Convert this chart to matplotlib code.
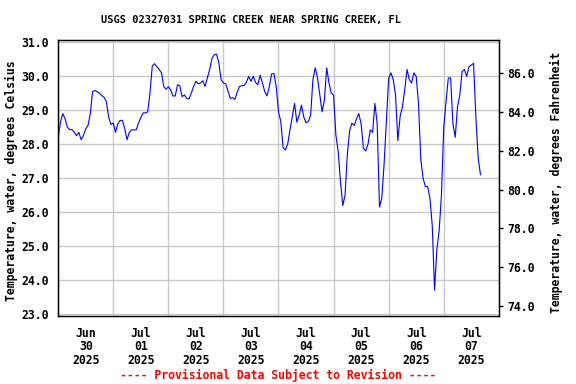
import numpy as np
import pandas as pd
import matplotlib
matplotlib.use("Agg")
import matplotlib.pyplot as plt
import matplotlib.dates as mdates
from matplotlib.ticker import FixedLocator, FormatStrFormatter

### hourly water temperature readings, degrees Celsius
jun30 = [28.2, 28.65, 28.9, 28.75, 28.5, 28.43, 28.43, 28.35, 28.25, 28.35, 28.13, 28.25,
         28.45, 28.55, 28.9, 29.55, 29.58, 29.55, 29.5, 29.43, 29.38, 29.25, 28.8, 28.58]
jul01 = [28.62, 28.35, 28.6, 28.7, 28.7, 28.45, 28.13, 28.35, 28.42, 28.42, 28.42, 28.62,
         28.78, 28.92, 28.92, 28.95, 29.5, 30.3, 30.37, 30.28, 30.2, 30.1, 29.7, 29.62]
jul02 = [29.69, 29.6, 29.42, 29.42, 29.75, 29.72, 29.4, 29.45, 29.35, 29.33, 29.5, 29.7,
         29.85, 29.78, 29.8, 29.87, 29.7, 29.95, 30.2, 30.52, 30.64, 30.65, 30.4, 29.9]
jul03 = [29.8, 29.78, 29.56, 29.35, 29.37, 29.32, 29.53, 29.7, 29.72, 29.73, 29.82, 30.0,
         29.85, 30.0, 29.82, 29.75, 30.03, 29.8, 29.55, 29.42, 29.7, 30.07, 30.08, 29.7]
jul04 = [28.95, 28.67, 27.9, 27.83, 28.0, 28.42, 28.8, 29.2, 28.65, 28.85, 29.15, 28.8,
         28.63, 28.67, 28.85, 29.9, 30.25, 29.95, 29.45, 28.95, 29.3, 30.25, 29.8, 29.5]
jul05 = [29.45, 28.27, 27.8, 26.9, 26.19, 26.5, 27.7, 28.4, 28.62, 28.55, 28.75, 28.9,
         28.6, 27.88, 27.8, 28.0, 28.42, 28.35, 29.2, 28.6, 26.15, 26.4, 27.4, 28.7]
jul06 = [29.94, 30.1, 29.9, 29.45, 28.1, 28.82, 29.1, 29.6, 30.2, 29.9, 29.8, 30.1,
         30.0, 29.2, 27.55, 27.0, 26.75, 26.75, 26.4, 25.6, 23.7, 24.9, 25.45, 26.5]
jul07 = [28.5, 29.25, 29.95, 29.95, 28.6, 28.2, 29.1, 29.45, 30.14, 30.2, 30.0, 30.28,
         30.33, 30.38, 28.8, 27.6, 27.1]

temps = jun30 + jul01 + jul02 + jul03 + jul04 + jul05 + jul06 + jul07
times = pd.date_range("2025-06-30 00:00", periods=len(temps), freq="h")

c_ticks = [23.0, 24.0, 25.0, 26.0, 27.0, 28.0, 29.0, 30.0, 31.0]
f_ticks = [74.0, 76.0, 78.0, 80.0, 82.0, 84.0, 86.0]

title = "USGS 02327031 SPRING CREEK NEAR SPRING CREEK, FL"
ylab_c = "Temperature, water, degrees Celsius"
ylab_f = "Temperature, water, degrees Fahrenheit"
note = "---- Provisional Data Subject to Revision ----"

### figure
mono = "DejaVu Sans Mono"
fig = plt.figure(figsize=(5.76, 3.84), dpi=100)
ax = fig.add_axes([0.101, 0.178, 0.765, 0.718])

ax.plot(times, temps, color="#0000ff", lw=0.8, zorder=3)

start = pd.Timestamp("2025-06-30")
ax.set_xlim(start, start + pd.Timedelta(days=8))
ax.set_ylim(22.95, 31.07)

# gridlines at midnight, labels at noon
ax.xaxis.set_major_locator(mdates.DayLocator())
ax.xaxis.set_major_formatter(plt.NullFormatter())
ax.xaxis.set_minor_locator(mdates.HourLocator(byhour=12))
ax.xaxis.set_minor_formatter(mdates.DateFormatter("%b\n%d\n%Y"))
ax.tick_params(axis="x", which="both", length=0)
ax.tick_params(axis="x", which="minor", pad=8)
for lab in ax.get_xticklabels(minor=True):
    lab.set_fontfamily(mono)
    lab.set_fontweight("bold")
    lab.set_fontsize(8.3)
    lab.set_linespacing(1.05)

ax.yaxis.set_major_locator(FixedLocator(c_ticks))
ax.yaxis.set_major_formatter(FormatStrFormatter("%.1f"))
ax.tick_params(axis="y", length=0, pad=7)
for lab in ax.get_yticklabels():
    lab.set_fontfamily(mono)
    lab.set_fontweight("bold")
    lab.set_fontsize(8.3)

ax.grid(True, which="major", color="#c8c8c8", lw=1.0)
ax.set_axisbelow(True)
for s in ax.spines.values():
    s.set_color("black")
    s.set_linewidth(1.0)

# Fahrenheit axis
ax2 = ax.twinx()
ax2.set_ylim(73.5, 87.72)
ax2.yaxis.set_major_locator(FixedLocator(f_ticks))
ax2.yaxis.set_major_formatter(FormatStrFormatter("%.1f"))
ax2.tick_params(axis="y", direction="out", length=3, width=1, pad=3)
for lab in ax2.get_yticklabels():
    lab.set_fontfamily(mono)
    lab.set_fontweight("bold")
    lab.set_fontsize(8.3)

### texts
fig.text(251 / 576, 1 - 20 / 384, title, family=mono, weight="bold", fontsize=7.5,
         ha="center", va="center")
fig.text(11 / 576, 1 - 181 / 384, ylab_c, family=mono, weight="bold", fontsize=8.3,
         rotation=90, ha="center", va="center")
fig.text(556 / 576, 1 - 182 / 384, ylab_f, family=mono, weight="bold", fontsize=8.3,
         rotation=90, ha="center", va="center")
fig.text(278 / 576, 1 - 375 / 384, note, family=mono, weight="bold", fontsize=8.3,
         color="#ff0000", ha="center", va="center")

fig.savefig("out.png", dpi=100)
